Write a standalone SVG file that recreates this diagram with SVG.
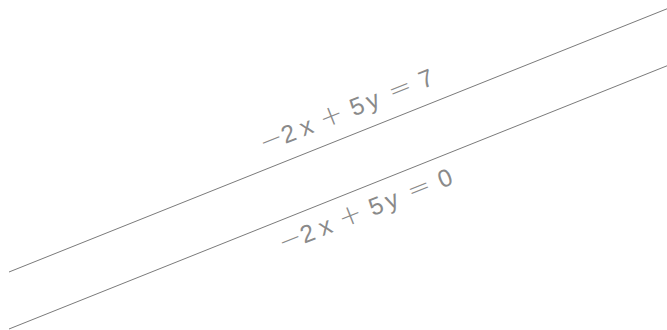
<svg xmlns="http://www.w3.org/2000/svg" width="667" height="330" viewBox="0 0 667 330">
<style>
.ln{stroke:#7a7a7a;stroke-width:1;fill:none}
.lb{font-family:"Liberation Sans",Arial,sans-serif;font-size:24.5px;fill:#8a8a8a}
.op{font-family:"DejaVu Sans",sans-serif;font-size:28px;font-weight:200}
</style>
<rect width="667" height="330" fill="#ffffff"/>
<g id="connectors">
<line id="line1" class="ln" x1="9" y1="272" x2="667" y2="8.8"/>
<line id="line2" class="ln" x1="9" y1="329" x2="667" y2="65.8"/>
</g>
<g id="label1">
<text class="lb" transform="translate(351.8,117.3) rotate(-21.8)" x="-95.1 -71.8 -51.9 -39.8 -30.5 -7 2.1 19.7 31.8 43.5 67 76.5" y="0"><tspan class="op">−</tspan>2x <tspan class="op">+</tspan> 5y <tspan class="op">=</tspan> 7</text>
</g>
<g id="label2">
<text class="lb" transform="translate(370.8,217) rotate(-21.8)" x="-95.1 -71.8 -51.9 -39.8 -30.5 -7 2.1 19.7 31.8 43.5 67 76.5" y="0"><tspan class="op">−</tspan>2x <tspan class="op">+</tspan> 5y <tspan class="op">=</tspan> 0</text>
</g>
</svg>
